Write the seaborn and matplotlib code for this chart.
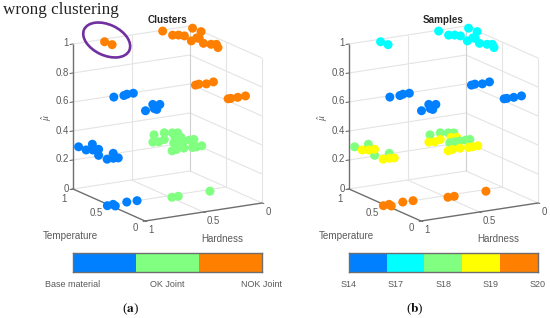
import matplotlib
matplotlib.use("Agg")
import matplotlib.pyplot as plt
from matplotlib.patches import Ellipse
from matplotlib.colors import ListedColormap
import numpy as np
import pandas as pd
import seaborn as sns

sns.set_theme(style="white")
plt.rcParams["font.family"] = ["Liberation Sans", "DejaVu Sans"]
plt.rcParams["mathtext.fontset"] = "stix"

BLUE, CYAN, GREEN, YELLOW, ORANGE = "#0080FF", "#00FFFF", "#80FF80", "#FFFF00", "#FF8000"

# every group: hardness, temperature, mu
top_h = [.246, .241, .202, .177, .015, .010, .204, .126, .118, .162, .128, .095, .130, .767, .761]
top_t = [.98, .85, .83, .79, .94, .83, .65, .70, .68, .55, .50, .48, .40, .94, .845]
top_m = [1.0] * 15

nok_h = [.292, .256, .205, .132, .280, .257, .198, .129]
nok_t = [.45, .46, .44, .46, .015, .015, .015, .02]
nok_m = [.75] * 8

base_hi_h = [.774, .688, .649, .595, .768, .632, .681, .678, .587]
base_hi_t = [.80, .80, .82, .82, .37, .49, .39, .36, .465]
base_hi_m = [.65] * 9

base_lo_h = [.983, .859, .978, .856, .980, .938, .892, .979, .926, .890]
base_lo_t = [.95, .96, .68, .675, .85, .825, .82, .56, .56, .55]
base_lo_m = [.30] * 10
base_lo_s = ["S18"] * 4 + ["S19"] * 6

floor_h = [1.02, .965, .974, .845, .760, .490, .436, .162]
floor_t = [.49, .50, .455, .505, .50, .455, .455, .46]
floor_m = [0.0] * 8
floor_c = ["Base material"] * 5 + ["OK Joint"] * 3

ok_h = [.437, .343, .293, .258, .548, .507, .438, .340, .303, .425, .380, .338, .287, .250, .550, .503, .437, .373, .337, .290]
ok_t = [.79, .80, .77, .75, .625, .61, .645, .655, .635, .535, .54, .54, .54, .54, .355, .37, .375, .36, .36, .365]
ok_m = [.35] * 20
ok_s = ["S18"] * 4 + ["S19"] * 5 + ["S18"] * 5 + ["S19"] * 6

cluster_labels = ["Base material", "OK Joint", "NOK Joint"]
sample_labels = ["S14", "S17", "S18", "S19", "S20"]
cluster_colors = [BLUE, GREEN, ORANGE]
sample_colors = [BLUE, CYAN, GREEN, YELLOW, ORANGE]

hardness = top_h + nok_h + base_hi_h + base_lo_h + floor_h + ok_h
temperature = top_t + nok_t + base_hi_t + base_lo_t + floor_t + ok_t
mu = top_m + nok_m + base_hi_m + base_lo_m + floor_m + ok_m
cluster = ["NOK Joint"] * 15 + ["NOK Joint"] * 8 + ["Base material"] * 9 + ["Base material"] * 10 + floor_c + ["OK Joint"] * 20
sample = ["S17"] * 15 + ["S14"] * 8 + ["S14"] * 9 + base_lo_s + ["S20"] * 8 + ok_s

df = pd.DataFrame({"h": hardness, "t": temperature, "m": mu, "cluster": cluster, "sample": sample})

W, H = 550, 318
fig = plt.figure(figsize=(W / 100, H / 100), dpi=100)
ax = fig.add_axes([0, 0, 1, 1])
ax.set_xlim(0, W)
ax.set_ylim(H, 0)
ax.axis("off")

GRID, AXC, TXT = "#e4e4e4", "#6e6e6e", "#5a5a5a"


def project(h, t, m, dx):
    u = 1 - np.asarray(h, float)
    t = np.asarray(t, float)
    m = np.asarray(m, float)
    return dx + 145 + 117 * u - 72 * t, 221 - 18 * u - 32 * t - 145 * m


def seg(p, q, dx, color=GRID, lw=0.8, z=1):
    x, y = project([p[0], q[0]], [p[1], q[1]], [p[2], q[2]], dx)
    ax.plot(x, y, color=color, lw=lw, zorder=z, solid_capstyle="butt")


def panel(dx, title, hue, order, colors):
    for m in [0, .2, .4, .6, .8, 1]:
        seg((1, 1, m), (0, 1, m), dx)
        seg((0, 1, m), (0, 0, m), dx)
    seg((.5, 1, 0), (.5, 1, 1), dx)
    seg((0, .5, 0), (0, .5, 1), dx)
    seg((0, 0, 0), (0, 0, 1), dx)
    seg((0, 1, 0), (0, 1, 1), dx, color="#cfcfcf")
    seg((.5, 1, 0), (.5, 0, 0), dx)
    seg((1, .5, 0), (0, .5, 0), dx)
    # box axes
    seg((1, 1, 0), (1, 1, 1), dx, AXC, 1.0, 2)
    seg((1, 1, 0), (1, 0, 0), dx, AXC, 1.0, 2)
    seg((1, 0, 0), (0, 0, 0), dx, AXC, 1.0, 2)
    for m, lab in zip([0, .2, .4, .6, .8, 1], ["0", "0.2", "0.4", "0.6", "0.8", "1"]):
        x, y = project(1, 1, m, dx)
        ax.plot([x - 3, x], [y + 0.5, y], color=AXC, lw=0.8, zorder=2)
        ax.text(x - 4.5, y - 0.5, lab, ha="right", va="center", fontsize=6.9, color=TXT)
    for t, lab, (tx, ty) in zip([1, .5, 0], ["1", "0.5", "0"], [(64, 198.5), (96, 213), (135, 228)]):
        x, y = project(1, t, 0, dx)
        ax.plot([x - 1.8, x], [y + 0.5, y], color=AXC, lw=0.8, zorder=2)
        ax.text(dx + tx, ty, lab, ha="center", va="center", fontsize=6.9, color=TXT)
    for h, lab, (tx, ty) in zip([1, .5, 0], ["1", "0.5", "0"], [(151, 230), (213, 221), (268, 212)]):
        x, y = project(h, 0, 0, dx)
        ax.plot([x + 1.8, x], [y + 0.5, y], color=AXC, lw=0.8, zorder=2)
        ax.text(dx + tx, ty, lab, ha="center", va="center", fontsize=6.9, color=TXT)
    ax.text(dx + 70, 236, "Temperature", ha="center", va="center", fontsize=7.1, color=TXT)
    ax.text(dx + 222, 239, "Hardness", ha="center", va="center", fontsize=7.1, color=TXT)
    ax.text(dx + 47, 117, r"$\hat{\mu}$", ha="center", va="center", rotation=90, fontsize=7, color=TXT)
    ax.text(dx + 167, 20, title, ha="center", va="center", fontsize=7.1, fontweight="bold", color="#262626")
    x, y = project(df["h"], df["t"], df["m"], dx)
    sns.scatterplot(x=x, y=y, hue=df[hue], hue_order=order, palette=colors, s=42, linewidth=0,
                    legend=False, ax=ax, zorder=3)


panel(0, "Clusters", "cluster", cluster_labels, cluster_colors)
panel(276, "Samples", "sample", sample_labels, sample_colors)
ax.set_xlim(0, W)
ax.set_ylim(H, 0)
ax.set_xlabel("")
ax.set_ylabel("")

ax.add_patch(Ellipse((106.7, 40), 49.8, 30.8, angle=25, fill=False, edgecolor="#7030A0", lw=1.9, zorder=4))
ax.text(3, 10, "wrong clustering", ha="left", va="center", fontsize=12.3, color="#222222",
        family=["Liberation Serif"])
for cx, lab in [(130, r"($\mathbf{a}$)"), (415, r"($\mathbf{b}$)")]:
    ax.text(cx, 309, lab, ha="center", va="center", fontsize=9.5, color="#111111", family=["Liberation Serif"])


def colorbar(x0, labels, colors):
    x1 = x0 + 189
    y0, y1 = 253.3, 271.7
    cax = fig.add_axes([x0 / W, 1 - y1 / H, (x1 - x0) / W, (y1 - y0) / H])
    n = len(labels)
    sns.heatmap([list(range(n))], cmap=ListedColormap(colors), cbar=False, ax=cax,
                xticklabels=False, yticklabels=False)
    cax.set_xticks(np.linspace(0, n, n))
    cax.set_xticklabels(labels, fontsize=6.5, color=TXT)
    cax.tick_params(axis="x", bottom=True, direction="in", length=1.5, width=0.6, color="#444444", pad=6)
    cax.set_yticks([])
    for s in cax.spines.values():
        s.set_visible(True)
        s.set_edgecolor("#6e6e6e")
        s.set_linewidth(1.0)


colorbar(72.7, cluster_labels, cluster_colors)
colorbar(348.7, sample_labels, sample_colors)

fig.savefig("out.png", dpi=100, facecolor="white")
